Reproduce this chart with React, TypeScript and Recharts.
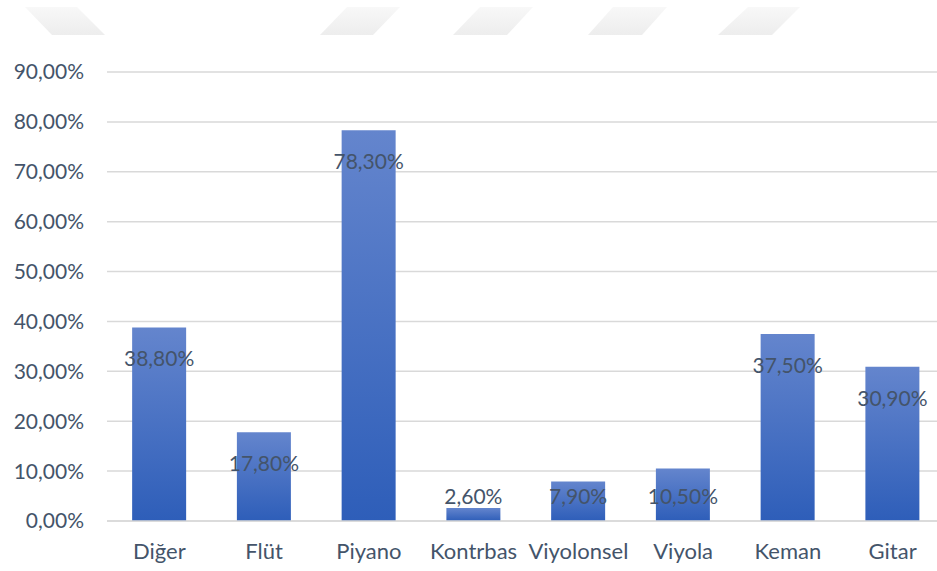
import React from "react";
import { BarChart, Bar, XAxis, YAxis, CartesianGrid, LabelList } from "recharts";

const categories = ["Diğer", "Flüt", "Piyano", "Kontrbas", "Viyolonsel", "Viyola", "Keman", "Gitar"];
const values = [0.388, 0.178, 0.783, 0.026, 0.079, 0.105, 0.375, 0.309];
const yTicks = [0, 0.1, 0.2, 0.3, 0.4, 0.5, 0.6, 0.7, 0.8, 0.9];

const data = categories.map((name, i) => ({ name, value: values[i] }));

const TEXT = "#44546A";
const FONT = "Lato, 'Open Sans', sans-serif";

const fmt = (v: number) => (v * 100).toFixed(2).replace(".", ",") + "%";

const BarLabel = (props: any) => {
  const { x, y, width, value } = props;
  const cy = Math.min(y + 30.5, 495);
  return (
    <text
      x={x + width / 2}
      y={cy}
      textAnchor="middle"
      dominantBaseline="central"
      fill={TEXT}
      fontSize={21}
      fontFamily={FONT}
    >
      {fmt(value)}
    </text>
  );
};

const XTick = (props: any) => {
  const { x, y, payload } = props;
  return (
    <text x={x} y={y + 21} textAnchor="middle" dominantBaseline="central" fill={TEXT} fontSize={22} fontFamily={FONT}>
      {payload.value}
    </text>
  );
};

const shapes = [
  "25,7 77,7 105,35 52,35",
  "347,7 400,7 373,35 320,35",
  "480,7 533,7 507,35 453,35",
  "613,7 667,7 642,35 588,35",
  "748,7 800,7 772,35 718,35",
];

export default function App() {
  return (
    <div style={{ position: "fixed", left: 0, top: 0, width: 937, height: 571, overflow: "hidden", background: "#fff" }}>
      <svg width={937} height={40} style={{ position: "absolute", left: 0, top: 0 }}>
        <defs>
          <linearGradient id="wm" x1="0" y1="0" x2="0" y2="1">
            <stop offset="0%" stopColor="#F8F8F8" />
            <stop offset="100%" stopColor="#EDEDED" />
          </linearGradient>
        </defs>
        {shapes.map((p, i) => (
          <polygon key={i} points={p} fill="url(#wm)" />
        ))}
      </svg>
      <div style={{ position: "absolute", left: 0, top: 0 }}>
        <BarChart
          width={945}
          height={571}
          data={data}
          margin={{ top: 72, right: 0, bottom: 0, left: 0 }}
          barCategoryGap="24%"
        >
          <defs>
            <linearGradient id="barGrad" x1="0" y1="0" x2="0" y2="1">
              <stop offset="0%" stopColor="#6485CD" />
              <stop offset="100%" stopColor="#2E5EB9" />
            </linearGradient>
          </defs>
          <CartesianGrid vertical={false} stroke="#D9D9D9" strokeWidth={1.5} />
          <XAxis
            dataKey="name"
            axisLine={{ stroke: "#D9D9D9", strokeWidth: 1.5 }}
            tickLine={false}
            tick={<XTick />}
            height={50}
            interval={0}
          />
          <YAxis
            domain={[0, 0.9]}
            ticks={yTicks}
            tickFormatter={fmt}
            axisLine={false}
            tickLine={false}
            width={107}
            tick={{ fill: TEXT, fontSize: 21, fontFamily: FONT }}
            tickMargin={17}
            interval={0}
          />
          <Bar dataKey="value" fill="url(#barGrad)" isAnimationActive={false}>
            <LabelList dataKey="value" content={<BarLabel />} />
          </Bar>
        </BarChart>
      </div>
    </div>
  );
}
